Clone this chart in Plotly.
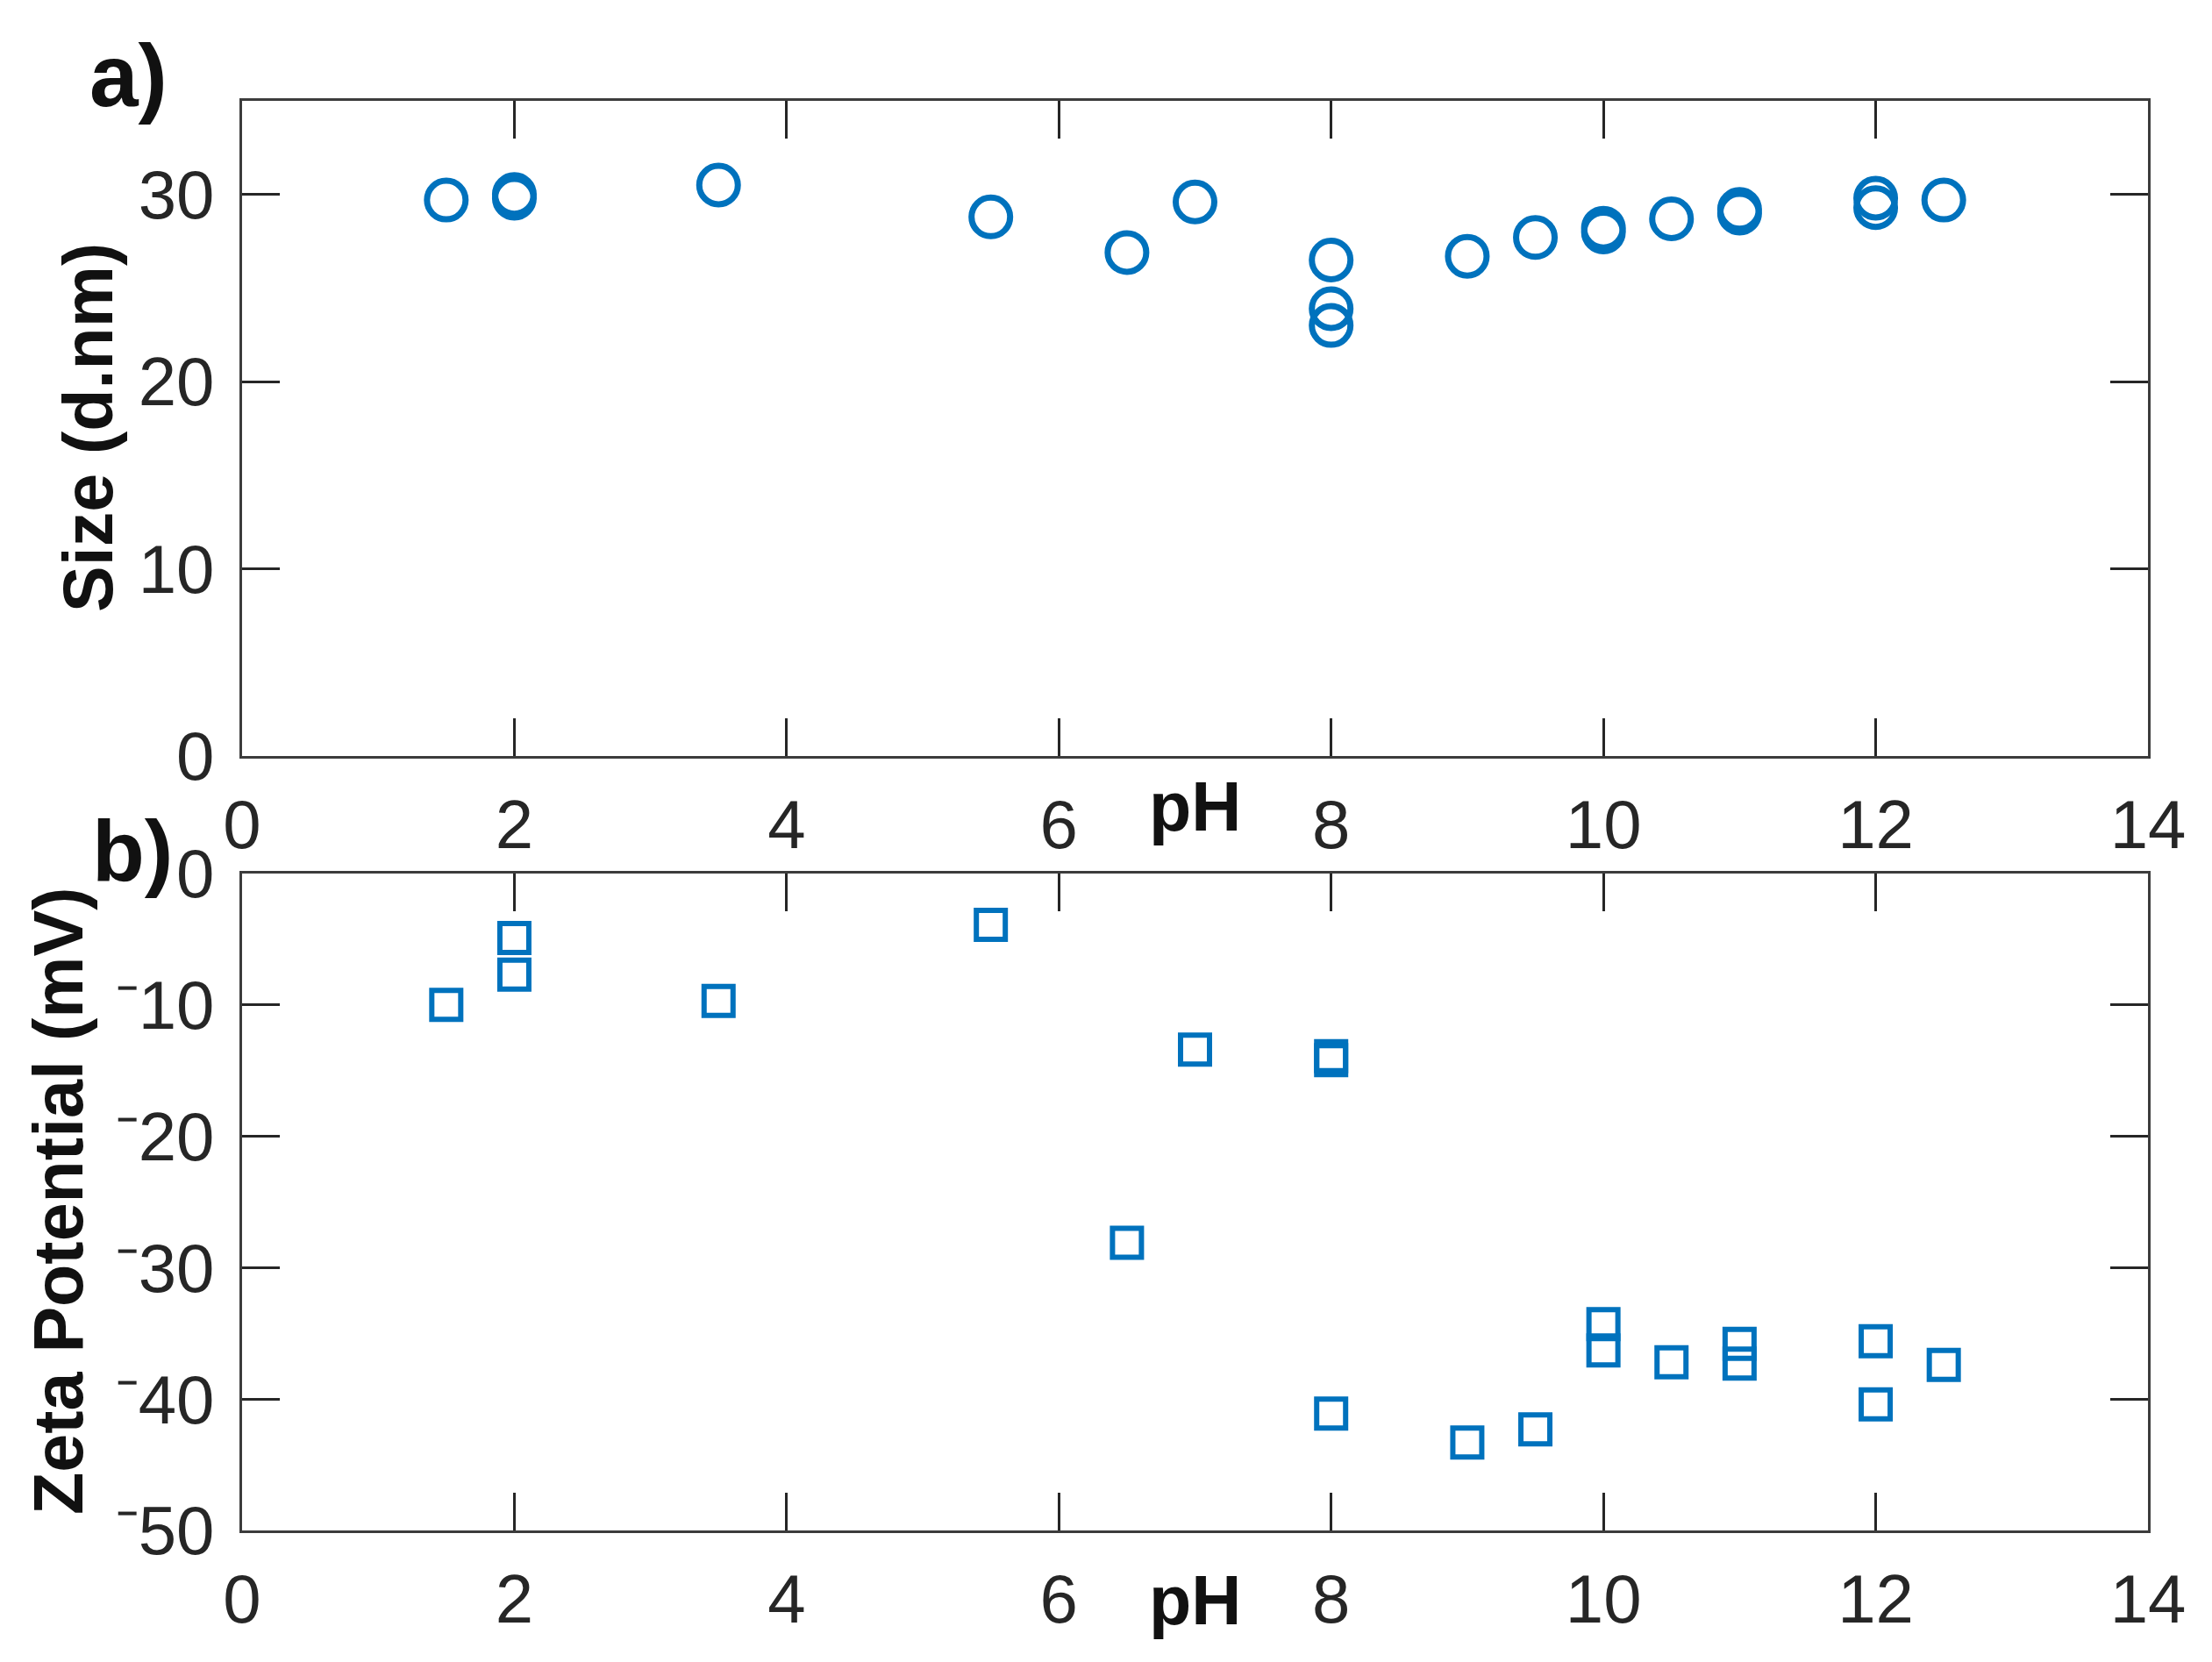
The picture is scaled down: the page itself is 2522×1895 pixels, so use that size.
"""Particle size and zeta potential against pH, two stacked panels."""
import plotly.graph_objects as go

# the page body keeps its default 8px margin, so the figure is 16px smaller than the window
PAGE_W, PAGE_H = 2522, 1895
PAD = 8
W, H = PAGE_W - 2 * PAD, PAGE_H - 2 * PAD

# panel a) hydrodynamic size
ph_size = [1.5, 2, 2, 3.5, 5.5, 6.5, 7, 8, 8, 8, 9, 9.5, 10, 10, 10.5, 11, 11, 12, 12, 12.5]
size_nm = [29.7, 29.8, 30.0, 30.5, 28.8, 26.9, 29.6, 26.5, 23.9, 23.0,
           26.7, 27.7, 28.0, 28.2, 28.7, 29.0, 29.2, 29.8, 29.3, 29.7]

# panel b) zeta potential
ph_zeta = [1.5, 2, 2, 3.5, 5.5, 6.5, 7, 8, 8, 8, 9, 9.5, 10, 10, 10.5, 11, 11, 12, 12, 12.5]
zeta_mv = [-10.0, -4.9, -7.7, -9.7, -3.9, -28.1, -13.4, -13.9, -14.2, -41.1,
           -43.3, -42.3, -34.3, -36.3, -37.2, -35.8, -37.3, -35.6, -40.4, -37.4]

x_ticks = [0, 2, 4, 6, 8, 10, 12, 14]
size_ticks = [0, 10, 20, 30]
zeta_ticks = [-50, -40, -30, -20, -10, 0]
zeta_ticktext = ["\u207b50", "\u207b40", "\u207b30", "\u207b20", "\u207b10", "0"]

BLUE = "#0072BD"
INK = "#262626"
FONT = "Liberation Sans, Arial, sans-serif"


def px(x, y):
    """page pixel -> paper fraction"""
    return (x - PAD) / W, 1 - (y - PAD) / H


fig = go.Figure()
fig.add_trace(go.Scatter(x=ph_size, y=size_nm, mode="markers", xaxis="x", yaxis="y",
                         marker=dict(symbol="circle-open", size=44, color=BLUE,
                                     line=dict(width=7, color=BLUE))))
fig.add_trace(go.Scatter(x=ph_zeta, y=zeta_mv, mode="markers", xaxis="x2", yaxis="y2",
                         marker=dict(symbol="square-open", size=33, color=BLUE,
                                     line=dict(width=6, color=BLUE))))

x0, _ = px(276, 0)
x1, _ = px(2449, 0)
_, ya_top = px(0, 115)
_, ya_bot = px(0, 862)
_, yb_top = px(0, 996)
_, yb_bot = px(0, 1745)

axis_common = dict(showline=True, linecolor="#3c3c3c", linewidth=3, mirror="ticks",
                   ticks="inside", ticklen=43, tickwidth=2.5, tickcolor=INK,
                   showgrid=False, zeroline=False, automargin=False,
                   tickfont=dict(family=FONT, size=78, color=INK))

fig.update_layout(
    width=W, height=H, margin=dict(l=0, r=0, t=0, b=0),
    paper_bgcolor="white", plot_bgcolor="white", showlegend=False,
    xaxis=dict(domain=[x0, x1], range=[0, 14], tickvals=x_ticks, anchor="y",
               ticklabelstandoff=8, **axis_common),
    yaxis=dict(domain=[ya_bot, ya_top], range=[0, 35], tickvals=size_ticks, anchor="x",
               ticklabelstandoff=13, **axis_common),
    xaxis2=dict(domain=[x0, x1], range=[0, 14], tickvals=x_ticks, anchor="y2",
                ticklabelstandoff=8, **axis_common),
    yaxis2=dict(domain=[yb_bot, yb_top], range=[-50, 0], tickvals=zeta_ticks,
                ticktext=zeta_ticktext, anchor="x2", ticklabelstandoff=13, **axis_common),
)

labels = [
    ("a)", 100, 86, 100, 0, "left"),
    ("b)", 103, 970, 98, 0, "left"),
    ("pH", 1362, 919, 79, 0, "center"),
    ("pH", 1362, 1824, 79, 0, "center"),
    ("Size (d.nm)", 100, 488, 79, -90, "center"),
    ("Zeta Potential (mV)", 66, 1370, 79, -90, "center"),
]
for text, lx, ly, fs, ang, xa in labels:
    ax, ay = px(lx, ly)
    fig.add_annotation(text="<b>" + text + "</b>", x=ax, y=ay, xref="paper", yref="paper",
                       xanchor=xa, yanchor="middle", showarrow=False, textangle=ang,
                       font=dict(family=FONT, size=fs, color="#111111"))

fig.write_html("out.html")
